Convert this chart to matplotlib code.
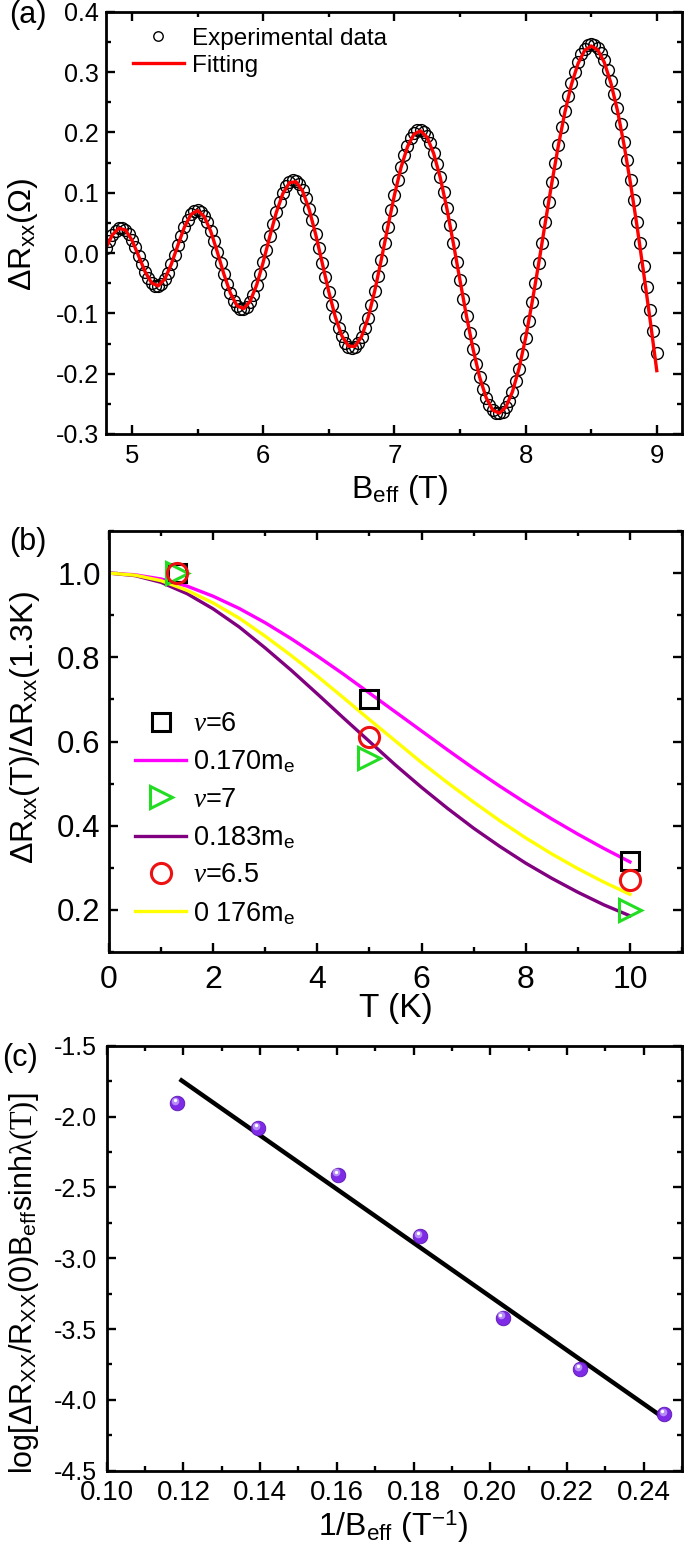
import numpy as np
import matplotlib
matplotlib.use('Agg')
import matplotlib.pyplot as plt
from matplotlib.ticker import MultipleLocator, FormatStrFormatter
from matplotlib.transforms import offset_copy

plt.rcParams['font.family'] = ['Liberation Sans', 'DejaVu Sans']
plt.rcParams['mathtext.fontset'] = 'custom'
plt.rcParams['mathtext.rm'] = 'Liberation Sans'
plt.rcParams['mathtext.it'] = 'Liberation Serif:italic'
plt.rcParams['mathtext.sf'] = 'Liberation Serif'
plt.rcParams['axes.unicode_minus'] = False

# ---- (a) SdH oscillations ----
b_exp = np.linspace(4.8, 9.0, 169)   # measured field grid, 0.025 T
dr_exp = [0.0080, 0.0195, 0.0296, 0.0372, 0.0415, 0.0421, 0.0387, 0.0318, 0.0216, 0.0093,
          -0.0045, -0.0183, -0.0312, -0.0420, -0.0500, -0.0543, -0.0547, -0.0510, -0.0434, -0.0325,
          -0.0187, -0.0034, 0.0129, 0.0287, 0.0433, 0.0555, 0.0647, 0.0702, 0.0715, 0.0687,
          0.0617, 0.0510, 0.0369, 0.0205, 0.0024, -0.0162, -0.0347, -0.0518, -0.0669, -0.0790,
          -0.0877, -0.0923, -0.0927, -0.0888, -0.0807, -0.0688, -0.0535, -0.0355, -0.0154, 0.0058,
          0.0274, 0.0483, 0.0678, 0.0852, 0.0997, 0.1108, 0.1180, 0.1210, 0.1197, 0.1141,
          0.1043, 0.0908, 0.0737, 0.0539, 0.0317, 0.0082, -0.0162, -0.0405, -0.0643, -0.0864,
          -0.1066, -0.1239, -0.1381, -0.1486, -0.1551, -0.1574, -0.1554, -0.1492, -0.1390, -0.1249,
          -0.1072, -0.0866, -0.0633, -0.0380, -0.0112, 0.0162, 0.0438, 0.0707, 0.0967, 0.1208,
          0.1428, 0.1620, 0.1781, 0.1905, 0.1992, 0.2038, 0.2044, 0.2009, 0.1933, 0.1817,
          0.1663, 0.1477, 0.1259, 0.1015, 0.0748, 0.0462, 0.0161, -0.0143, -0.0451, -0.0754,
          -0.1051, -0.1333, -0.1599, -0.1844, -0.2062, -0.2248, -0.2404, -0.2524, -0.2608, -0.2654,
          -0.2660, -0.2628, -0.2558, -0.2449, -0.2304, -0.2127, -0.1918, -0.1680, -0.1414, -0.1127,
          -0.0819, -0.0503, -0.0173, 0.0164, 0.0506, 0.0840, 0.1170, 0.1490, 0.1797, 0.2087,
          0.2357, 0.2601, 0.2820, 0.3008, 0.3166, 0.3292, 0.3385, 0.3441, 0.3462, 0.3448,
          0.3397, 0.3313, 0.3193, 0.3041, 0.2856, 0.2644, 0.2404, 0.2136, 0.1845, 0.1536,
          0.1209, 0.0872, 0.0521, 0.0161, -0.0207, -0.0571, -0.0937, -0.1296, -0.1650]

b_fit = np.linspace(4.8, 9.0, 85)
dr_fit = [0.0080, 0.0296, 0.0410, 0.0382, 0.0213, -0.0045, -0.0310, -0.0497, -0.0545, -0.0432,
          -0.0186, 0.0128, 0.0430, 0.0640, 0.0705, 0.0608, 0.0363, 0.0022, -0.0345, -0.0664,
          -0.0872, -0.0922, -0.0803, -0.0533, -0.0155, 0.0270, 0.0670, 0.0985, 0.1165, 0.1182,
          0.1030, 0.0728, 0.0312, -0.0162, -0.0640, -0.1060, -0.1373, -0.1543, -0.1548, -0.1385,
          -0.1070, -0.0633, -0.0115, 0.0430, 0.0955, 0.1412, 0.1762, 0.1972, 0.2025, 0.1915,
          0.1648, 0.1248, 0.0740, 0.0157, -0.0450, -0.1048, -0.1595, -0.2058, -0.2400, -0.2605,
          -0.2655, -0.2553, -0.2300, -0.1915, -0.1412, -0.0818, -0.0175, 0.0500, 0.1160, 0.1782,
          0.2337, 0.2797, 0.3140, 0.3357, 0.3432, 0.3366, 0.3160, 0.2820, 0.2365, 0.1800,
          0.1150, 0.0440, -0.0330, -0.1120, -0.1950]

# ---- (b) temperature damping ----
temps = [1.3, 5.0, 10.0]
ratio_nu6 = [1.0, 0.70, 0.315]
ratio_nu7 = [1.0, 0.56, 0.20]
ratio_nu65 = [1.0, 0.61, 0.27]

t_curve = np.linspace(0, 10, 21)
lk_170 = [1.0, 0.996, 0.986, 0.969, 0.945, 0.916, 0.882, 0.844, 0.803, 0.760, 0.715,
          0.670, 0.625, 0.580, 0.536, 0.494, 0.454, 0.416, 0.380, 0.346, 0.314]
lk_183 = [1.0, 0.994, 0.978, 0.951, 0.915, 0.872, 0.822, 0.769, 0.713, 0.656, 0.600,
          0.544, 0.491, 0.441, 0.394, 0.351, 0.311, 0.275, 0.242, 0.212, 0.186]
lk_176 = [1.0, 0.995, 0.982, 0.959, 0.929, 0.893, 0.850, 0.804, 0.755, 0.704, 0.652,
          0.601, 0.550, 0.502, 0.456, 0.412, 0.371, 0.333, 0.298, 0.266, 0.237]

# ---- (c) Dingle plot ----
inv_b = [0.1183, 0.1394, 0.1603, 0.1817, 0.2032, 0.2234, 0.2454]
log_amp = [-1.905, -2.08, -2.41, -2.845, -3.42, -3.785, -4.10]
line_x = [0.1195, 0.2451]
line_y = [-1.745, -4.125]

W, H = 685, 1555
fig = plt.figure(figsize=(6.85, 15.55), dpi=100)


def px_axes(l, r, t, b):
    return fig.add_axes([l / W, 1 - b / H, (r - l) / W, (b - t) / H])


def px_text(x, y, s, size, rot=0):
    fig.text(x / W, 1 - y / H, s, fontsize=size, rotation=rot, ha='center', va='center')


def style(ax, xs, ys, xpad, ypad):
    for sp in ax.spines.values():
        sp.set_linewidth(2.0)
    ax.tick_params(which='both', direction='in', top=True, right=True, width=1.7)
    ax.tick_params(which='major', length=6.5)
    ax.tick_params(which='minor', length=3.5)
    ax.tick_params(axis='x', labelsize=xs, pad=xpad)
    ax.tick_params(axis='y', labelsize=ys, pad=ypad)


# (a)
ax1 = px_axes(105.7, 681.7, 11.7, 434)
h_exp, = ax1.plot(b_exp, dr_exp, 'o', ms=8.5, mfc='none', mec='black', mew=1.0,
                  label='Experimental data')
h_fit, = ax1.plot(b_fit, dr_fit, '-', color='red', lw=2.4, label='Fitting')
ax1.set_xlim(4.8, 9.19)
ax1.set_ylim(-0.3, 0.4)
ax1.xaxis.set_major_locator(MultipleLocator(1))
ax1.xaxis.set_minor_locator(MultipleLocator(0.5))
ax1.yaxis.set_major_locator(MultipleLocator(0.1))
ax1.yaxis.set_minor_locator(MultipleLocator(0.05))
ax1.xaxis.set_major_formatter(FormatStrFormatter('%d'))
ax1.yaxis.set_major_formatter(FormatStrFormatter('%.1f'))
style(ax1, 18.5, 18, 7, 5)
ax1.legend(handles=[h_exp, h_fit], loc='upper left', bbox_to_anchor=(0.047, 0.962),
           frameon=False, fontsize=17.5, handlelength=2.1, handletextpad=0.35,
           labelspacing=0.2, borderpad=0, borderaxespad=0, numpoints=1, markerscale=0.8)
px_text(23, 234, 'ΔR$_{\\mathrm{xx}}$(Ω)', 23, 90)
px_text(400, 490, 'B$_{\\mathrm{eff}}$ (T)', 23)
px_text(28, 15, '(a)', 22)

# (b)
ax2 = px_axes(109, 682, 531, 952)
l170, = ax2.plot(t_curve, lk_170, color='#ff00ff', lw=2.4, label='0.170m$_{\\mathrm{e}}$')
l183, = ax2.plot(t_curve, lk_183, color='#800080', lw=2.4, label='0.183m$_{\\mathrm{e}}$')
l176, = ax2.plot(t_curve, lk_176, color='#ffff00', lw=2.4, label='0 176m$_{\\mathrm{e}}$')
p6, = ax2.plot(temps, ratio_nu6, 's', ms=12.5, mfc='none', mec='black', mew=2.2,
               label='$\\mathit{v}$=6')
p7, = ax2.plot(temps, ratio_nu7, '>', ms=16, mfc='none', mec='#22dd22', mew=2.2,
               label='$\\mathit{v}$=7')
p65, = ax2.plot(temps, ratio_nu65, 'o', ms=14.5, mfc='none', mec='#ee1111', mew=2.2,
                label='$\\mathit{v}$=6.5')
ax2.set_xlim(0, 11)
ax2.set_ylim(0.1, 1.1)
ax2.xaxis.set_major_locator(MultipleLocator(2))
ax2.xaxis.set_minor_locator(MultipleLocator(1))
ax2.yaxis.set_major_locator(MultipleLocator(0.2))
ax2.yaxis.set_minor_locator(MultipleLocator(0.1))
ax2.xaxis.set_major_formatter(FormatStrFormatter('%d'))
ax2.yaxis.set_major_formatter(FormatStrFormatter('%.1f'))
style(ax2, 23, 22.5, 9, 6)
ax2.legend(handles=[p6, l170, p7, l183, p65, l176], loc='upper left',
           bbox_to_anchor=(0.045, 0.572), frameon=False, fontsize=19.5,
           handlelength=1.9, handletextpad=0.25, labelspacing=0.42,
           borderpad=0, borderaxespad=0, numpoints=1)
px_text(25, 728, 'ΔR$_{\\mathrm{xx}}$(T)/ΔR$_{\\mathrm{xx}}$(1.3K)', 23, 90)
px_text(396, 1008, 'T (K)', 24)
px_text(28, 542, '(b)', 22)

# (c)
ax3 = px_axes(106.7, 682, 1045.7, 1470.7)
ax3.plot(line_x, line_y, '-', color='black', lw=3.2, zorder=2)
ax3.plot(inv_b, log_amp, 'o', ms=10.5, mfc='#7e2ae6', mec='#5c18b0', mew=0.6, zorder=3)
hl = offset_copy(ax3.transData, fig=fig, x=-1.2, y=1.6, units='points')
ax3.plot(inv_b, log_amp, 'o', ms=5.5, mfc='#b58cf5', mec='none', zorder=4, transform=hl)
hl2 = offset_copy(ax3.transData, fig=fig, x=-1.6, y=2.2, units='points')
ax3.plot(inv_b, log_amp, 'o', ms=2.4, mfc='white', mec='none', zorder=5, transform=hl2)
ax3.set_xlim(0.10, 0.25)
ax3.set_ylim(-4.5, -1.5)
ax3.xaxis.set_major_locator(MultipleLocator(0.02))
ax3.xaxis.set_minor_locator(MultipleLocator(0.01))
ax3.yaxis.set_major_locator(MultipleLocator(0.5))
ax3.yaxis.set_minor_locator(MultipleLocator(0.25))
ax3.xaxis.set_major_formatter(FormatStrFormatter('%.2f'))
ax3.yaxis.set_major_formatter(FormatStrFormatter('%.1f'))
style(ax3, 20, 18, 7, 7)
px_text(24, 1283, 'log[ΔR$_{\\mathrm{XX}}$/R$_{\\mathrm{XX}}$(0)B$_{\\mathrm{eff}}$sinh$\\mathsf{λ(T)}$]', 22, 90)
px_text(393, 1527, '1/B$_{\\mathrm{eff}}$ (T$^{\\mathrm{-1}}$)', 23)
px_text(20, 1058, '(c)', 22)

fig.savefig('out.png', dpi=100)
